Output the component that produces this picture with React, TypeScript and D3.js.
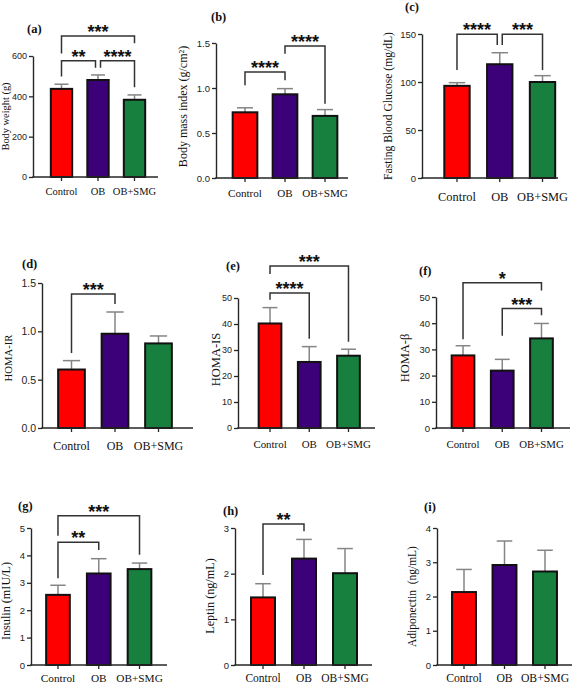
import * as d3 from 'd3';
import { useEffect, useRef } from 'react';

const categories = ['Control', 'OB', 'OB+SMG'];
const barColors = ['#ff0000', '#3c0078', '#18803f'];

// (a) body weight
const bodyWeight = [437, 481, 383];
const bodyWeightSem = [23, 25, 24];
const bodyWeightTicks = [0, 200, 400, 600];
// (b) BMI
const bmi = [0.73, 0.93, 0.69];
const bmiSem = [0.05, 0.063, 0.07];
const bmiTicks = [0, 0.5, 1.0, 1.5];
// (c) fasting blood glucose
const glucose = [96, 118.5, 100];
const glucoseSem = [3.3, 12, 6.6];
const glucoseTicks = [0, 50, 100, 150];
// (d) HOMA-IR
const homaIR = [0.605, 0.975, 0.875];
const homaIRSem = [0.092, 0.225, 0.077];
const homaIRTicks = [0, 0.5, 1.0, 1.5];
// (e) HOMA-IS
const homaIS = [40.2, 25.4, 27.8];
const homaISSem = [6.1, 5.9, 2.5];
const homaISTicks = [0, 10, 20, 30, 40, 50];
// (f) HOMA-beta
const homaB = [27.7, 21.9, 34.2];
const homaBSem = [3.7, 4.3, 5.7];
const homaBTicks = [0, 10, 20, 30, 40, 50];
// (g) insulin
const insulin = [2.56, 3.34, 3.5];
const insulinSem = [0.35, 0.54, 0.22];
const insulinTicks = [0, 1, 2, 3, 4, 5];
// (h) leptin
const leptin = [1.48, 2.33, 2.01];
const leptinSem = [0.3, 0.42, 0.54];
const leptinTicks = [0, 1, 2, 3];
// (i) adiponectin
const adiponectin = [2.13, 2.92, 2.73];
const adiponectinSem = [0.66, 0.7, 0.62];
const adiponectinTicks = [0, 1, 2, 3, 4];

type Sig = { from: number; to: number; top: number; legFrom: number; legTo: number; label: string };

// significance brackets (heights in data units)
const bodyWeightSig: Sig[] = [
  { from: 0, to: 1, top: 577, legFrom: 498, legTo: 542, label: '**' },
  { from: 1, to: 2, top: 577, legFrom: 542, legTo: 445, label: '****' },
  { from: 0, to: 2, top: 699, legFrom: 613, legTo: 663, label: '***' },
];
const bmiSig: Sig[] = [
  { from: 0, to: 1, top: 1.178, legFrom: 1.03, legTo: 1.085, label: '****' },
  { from: 1, to: 2, top: 1.467, legFrom: 1.38, legTo: 0.825, label: '****' },
];
const glucoseSig: Sig[] = [
  { from: 0, to: 1, top: 149.7, legFrom: 112.4, legTo: 138.5, label: '****' },
  { from: 1, to: 2, top: 149.7, legFrom: 138.5, legTo: 112.4, label: '***' },
];
const homaIRSig: Sig[] = [{ from: 0, to: 1, top: 1.386, legFrom: 0.776, legTo: 1.283, label: '***' }];
const homaISSig: Sig[] = [
  { from: 0, to: 1, top: 51.9, legFrom: 49.3, legTo: 34.3, label: '****' },
  { from: 0, to: 2, top: 62.3, legFrom: 59.2, legTo: 33.2, label: '***' },
];
const homaBSig: Sig[] = [
  { from: 0, to: 2, top: 55.4, legFrom: 33.9, legTo: 52.5, label: '*' },
  { from: 1, to: 2, top: 45.6, legFrom: 35.2, legTo: 43, label: '***' },
];
const insulinSig: Sig[] = [
  { from: 0, to: 1, top: 4.48, legFrom: 3.17, legTo: 4.2, label: '**' },
  { from: 0, to: 2, top: 5.45, legFrom: 4.72, legTo: 4.02, label: '***' },
];
const leptinSig: Sig[] = [{ from: 0, to: 1, top: 3.09, legFrom: 1.97, legTo: 2.93, label: '**' }];

type Panel = {
  tag: string;
  title: string;
  values: number[];
  sem: number[];
  ticks: number[];
  fmt: string;
  sig: Sig[];
  axisX: number;
  axisEnd: number;
  yTop: number;
  y0: number;
  bars: [number, number];
  fill: number;
  tagPos: [number, number];
  titlePos: [number, number];
  titleSize: number;
  tickSize: number;
  catSize: number;
  catDy: number;
};

const panels: Panel[] = [
  { tag: '(a)', title: 'Body weight (g)', values: bodyWeight, sem: bodyWeightSem, ticks: bodyWeightTicks, fmt: 'd', sig: bodyWeightSig,
    axisX: 33, axisEnd: 158, yTop: 56, y0: 177, bars: [43.25, 152.75], fill: 0.64, tagPos: [27, 33], titlePos: [9, 116.5], titleSize: 10.4, tickSize: 9, catSize: 10.5, catDy: 18 },
  { tag: '(b)', title: 'Body mass index (g/cm²)', values: bmi, sem: bmiSem, ticks: bmiTicks, fmt: '.1f', sig: bmiSig,
    axisX: 216, axisEnd: 348, yTop: 43, y0: 178, bars: [225, 345], fill: 0.667, tagPos: [211, 21], titlePos: [187, 106.5], titleSize: 12, tickSize: 9.5, catSize: 11.1, catDy: 18.7 },
  { tag: '(c)', title: 'Fasting Blood Glucose (mg/dL)', values: glucose, sem: glucoseSem, ticks: glucoseTicks, fmt: 'd', sig: glucoseSig,
    axisX: 422, axisEnd: 558, yTop: 34, y0: 178, bars: [435.6, 563.9], fill: 0.64, tagPos: [405, 11], titlePos: [391.5, 106], titleSize: 11.6, tickSize: 9.5, catSize: 12.4, catDy: 23 },
  { tag: '(d)', title: 'HOMA-IR', values: homaIR, sem: homaIRSem, ticks: homaIRTicks, fmt: '.1f', sig: homaIRSig,
    axisX: 42, axisEnd: 193, yTop: 283, y0: 428, bars: [49.75, 180.25], fill: 0.66, tagPos: [22, 268], titlePos: [12, 358], titleSize: 10.7, tickSize: 10.5, catSize: 12, catDy: 21.5 },
  { tag: '(e)', title: 'HOMA-IS', values: homaIS, sem: homaISSem, ticks: homaISTicks, fmt: 'd', sig: homaISSig,
    axisX: 238, axisEnd: 375, yTop: 298, y0: 428, bars: [250.4, 368.1], fill: 0.63, tagPos: [226, 270], titlePos: [220, 359.5], titleSize: 12.5, tickSize: 9, catSize: 10.9, catDy: 20 },
  { tag: '(f)', title: 'HOMA-β', values: homaB, sem: homaBSem, ticks: homaBTicks, fmt: 'd', sig: homaBSig,
    axisX: 436, axisEnd: 570, yTop: 297, y0: 428, bars: [443.4, 561.1], fill: 0.63, tagPos: [419, 275], titlePos: [409, 358], titleSize: 12.5, tickSize: 9.5, catSize: 10.8, catDy: 20 },
  { tag: '(g)', title: 'Insulin (mIU/L)', values: insulin, sem: insulinSem, ticks: insulinTicks, fmt: 'd', sig: insulinSig,
    axisX: 31, axisEnd: 167, yTop: 528, y0: 665, bars: [37.6, 159.9], fill: 0.63, tagPos: [18, 510], titlePos: [10, 601], titleSize: 12.2, tickSize: 9.5, catSize: 11.3, catDy: 17 },
  { tag: '(h)', title: 'Leptin (ng/mL)', values: leptin, sem: leptinSem, ticks: leptinTicks, fmt: 'd', sig: leptinSig,
    axisX: 235, axisEnd: 372, yTop: 528, y0: 665, bars: [242.5, 365.5], fill: 0.634, tagPos: [223, 515], titlePos: [213.5, 596], titleSize: 12.2, tickSize: 9.5, catSize: 11.5, catDy: 17 },
  { tag: '(i)', title: 'Adiponectin  (ng/mL)', values: adiponectin, sem: adiponectinSem, ticks: adiponectinTicks, fmt: 'd', sig: [],
    axisX: 437, axisEnd: 572, yTop: 528, y0: 665, bars: [443.75, 565.25], fill: 0.64, tagPos: [424, 511], titlePos: [416, 596.5], titleSize: 11.5, tickSize: 9.5, catSize: 11.7, catDy: 17 },
];

const serif = '"Liberation Serif", "Times New Roman", serif';
const sans = '"Liberation Sans", Arial, sans-serif';

function drawPanel(svg: d3.Selection<SVGSVGElement, unknown, null, undefined>, p: Panel) {
  const g = svg.append('g');
  const pad = 1 - p.fill;
  const x = d3.scaleBand<string>().domain(categories).range(p.bars).paddingInner(pad).paddingOuter(pad / 2);
  const y = d3.scaleLinear().domain([0, d3.max(p.ticks)!]).range([p.y0, p.yTop]);
  const cx = (i: number) => x(categories[i])! + x.bandwidth() / 2;
  const capW = x.bandwidth() * 0.3;

  // error bars, upper half only
  g.append('g')
    .attr('stroke', '#858585')
    .attr('stroke-width', 1.5)
    .selectAll('line')
    .data(p.values)
    .join('line')
    .attr('x1', (_, i) => cx(i))
    .attr('x2', (_, i) => cx(i))
    .attr('y1', d => y(d))
    .attr('y2', (d, i) => y(d + p.sem[i]));
  g.append('g')
    .attr('stroke', '#858585')
    .attr('stroke-width', 1.5)
    .selectAll('line')
    .data(p.values)
    .join('line')
    .attr('x1', (_, i) => cx(i) - capW)
    .attr('x2', (_, i) => cx(i) + capW)
    .attr('y1', (d, i) => y(d + p.sem[i]))
    .attr('y2', (d, i) => y(d + p.sem[i]));

  // bars
  g.append('g')
    .selectAll('rect')
    .data(p.values)
    .join('rect')
    .attr('x', (_, i) => x(categories[i])! + 1)
    .attr('width', x.bandwidth() - 2)
    .attr('y', d => y(d))
    .attr('height', d => y(0) - y(d))
    .attr('fill', (_, i) => barColors[i])
    .attr('stroke', '#111')
    .attr('stroke-width', 2);

  // y axis
  const yAxis = g.append('g')
    .attr('transform', `translate(${p.axisX},0)`)
    .call(d3.axisLeft(y).tickValues(p.ticks).tickSize(4).tickSizeOuter(0).tickFormat(d3.format(p.fmt)));
  yAxis.select('.domain').attr('stroke', '#262626').attr('stroke-width', 1.4);
  yAxis.selectAll('.tick line').attr('stroke', '#262626').attr('stroke-width', 1.3);
  yAxis.selectAll('.tick text')
    .attr('font-family', sans)
    .attr('font-size', p.tickSize)
    .attr('fill', '#222')
    .attr('x', -6);

  // x axis
  g.append('line')
    .attr('x1', p.axisX - 0.7)
    .attr('x2', p.axisEnd)
    .attr('y1', p.y0)
    .attr('y2', p.y0)
    .attr('stroke', '#262626')
    .attr('stroke-width', 1.4);
  const xAxis = g.append('g')
    .attr('transform', `translate(0,${p.y0})`)
    .call(d3.axisBottom(x).tickSize(4).tickSizeOuter(0));
  xAxis.select('.domain').remove();
  xAxis.selectAll('.tick line').attr('stroke', '#262626').attr('stroke-width', 1.3);
  xAxis.selectAll('.tick text')
    .attr('font-family', serif)
    .attr('font-size', p.catSize)
    .attr('fill', '#111')
    .attr('y', p.catDy)
    .attr('dy', null);

  // significance brackets
  const shift = 2.5;
  const sig = g.append('g');
  p.sig.forEach(s => {
    const leftShared = p.sig.some(o => o !== s && o.top === s.top && o.to === s.from);
    const rightShared = p.sig.some(o => o !== s && o.top === s.top && o.from === s.to);
    const x1 = cx(s.from) + (leftShared ? shift : 0);
    const x2 = cx(s.to) - (rightShared ? shift : 0);
    sig.append('path')
      .attr('d', `M${x1},${y(s.legFrom)}V${y(s.top)}H${x2}V${y(s.legTo)}`)
      .attr('fill', 'none')
      .attr('stroke', '#333')
      .attr('stroke-width', 1.5);
    sig.append('text')
      .attr('x', (x1 + x2) / 2)
      .attr('y', y(s.top) + 2)
      .attr('text-anchor', 'middle')
      .attr('font-family', sans)
      .attr('font-weight', 'bold')
      .attr('font-size', 18)
      .attr('fill', '#111')
      .text(s.label);
  });

  // panel tag
  g.append('text')
    .attr('x', p.tagPos[0])
    .attr('y', p.tagPos[1])
    .attr('font-family', serif)
    .attr('font-weight', 'bold')
    .attr('font-size', 12.5)
    .attr('fill', '#111')
    .text(p.tag);

  // y title
  g.append('text')
    .attr('transform', `translate(${p.titlePos[0]},${p.titlePos[1]}) rotate(-90)`)
    .attr('text-anchor', 'middle')
    .attr('font-family', serif)
    .attr('font-size', p.titleSize)
    .attr('fill', '#111')
    .style('white-space', 'pre')
    .text(p.title);
}

export default function App() {
  const svgRef = useRef<SVGSVGElement | null>(null);

  useEffect(() => {
    if (!svgRef.current) return;
    document.body.style.margin = '0';
    const svg = d3.select(svgRef.current);
    svg.selectAll('*').remove();
    svg.append('rect').attr('width', 575).attr('height', 685).attr('fill', '#fff');
    panels.forEach(p => drawPanel(svg, p));
  }, []);

  return <svg ref={svgRef} width={575} height={685} style={{ display: 'block' }} />;
}
